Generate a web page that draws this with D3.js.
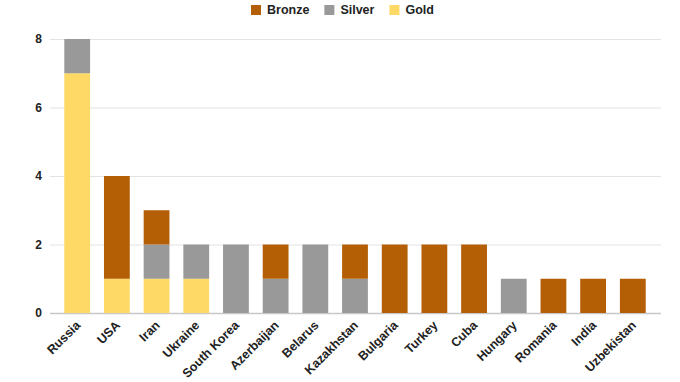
<!DOCTYPE html>
<html><head><meta charset="utf-8">
<script src="https://cdn.jsdelivr.net/npm/d3@7"></script>
<style>body{margin:0;background:#fff}svg{display:block}text{font-family:"Liberation Sans",Arial,sans-serif}</style>
</head><body><svg id="c" width="680" height="382"></svg>
<script>
const categories = ["Russia","USA","Iran","Ukraine","South Korea","Azerbaijan","Belarus","Kazakhstan","Bulgaria","Turkey","Cuba","Hungary","Romania","India","Uzbekistan"];
const gold   = [7,1,1,1,0,0,0,0,0,0,0,0,0,0,0];
const silver = [1,0,1,1,2,1,2,1,0,0,0,1,0,0,0];
const bronze = [0,3,1,0,0,1,0,1,2,2,2,0,1,1,1];
const seriesNames = ["Gold","Silver","Bronze"];
const colors = {Gold:"#ffd966", Silver:"#999999", Bronze:"#b45f06"};
const yTicks = [0,2,4,6,8];

const svg = d3.select("#c");
const m = {l:50, r:20, t:39, b:69};
const W = 680, H = 382;
const x = d3.scaleBand().domain(categories).range([m.l, W-m.r]).paddingInner(0.35).paddingOuter(0.36);
const y = d3.scaleLinear().domain([0,8]).range([H-m.b, m.t]);

const rows = categories.map((c,i)=>({cat:c, Gold:gold[i], Silver:silver[i], Bronze:bronze[i]}));
const stacked = d3.stack().keys(seriesNames)(rows);

// grid
svg.append("g").selectAll("line").data(yTicks).join("line")
  .attr("x1", m.l).attr("x2", W-m.r+1)
  .attr("y1", d=>y(d)+0.5).attr("y2", d=>y(d)+0.5)
  .attr("stroke", d=>d===0?"#c8c8c8":"#e3e3e3").attr("stroke-width", d=>d===0?1.5:1);

svg.append("g").selectAll("text").data(yTicks).join("text")
  .attr("x", 42).attr("y", d=>y(d)).attr("dy","0.35em")
  .attr("text-anchor","end").attr("font-size",12).attr("font-weight","bold").attr("fill","#222")
  .text(d=>d);

svg.append("g").selectAll("g").data(stacked).join("g")
  .attr("fill", d=>colors[d.key])
  .selectAll("rect").data(d=>d.filter(p=>p[1]>p[0])).join("rect")
  .attr("x", d=>x(d.data.cat)).attr("width", x.bandwidth())
  .attr("y", d=>y(d[1])).attr("height", d=>y(d[0])-y(d[1]));

// x labels
svg.append("g").selectAll("text").data(categories).join("text")
  .attr("transform", d=>`translate(${x(d)+x.bandwidth()/2+4},${H-m.b+13}) rotate(-45)`)
  .attr("text-anchor","end").attr("font-size",12.5).attr("font-weight","bold").attr("fill","#222")
  .text(d=>d);

// legend
const legendItems = ["Bronze","Silver","Gold"];
const lg = svg.append("g");
let lx = 251;
legendItems.forEach(k=>{
  lg.append("rect").attr("x", lx).attr("y", 5).attr("width", 10).attr("height", 10).attr("fill", colors[k]);
  const t = lg.append("text").attr("x", lx+16).attr("y", 10).attr("dy","0.35em")
    .attr("font-size",12.5).attr("font-weight","bold").attr("fill","#222").text(k);
  lx += 16 + t.node().getComputedTextLength() + 15;
});
</script></body></html>
